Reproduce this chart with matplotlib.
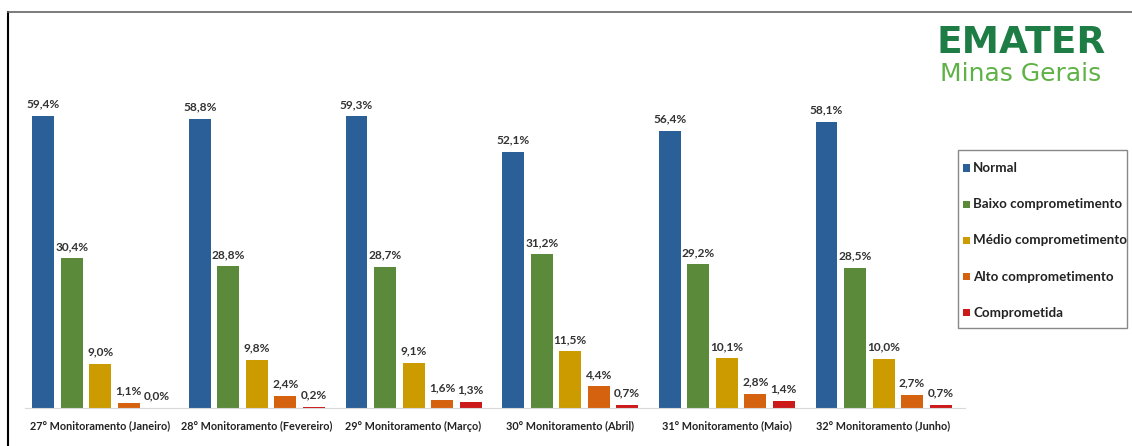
import numpy as np
import matplotlib.pyplot as plt
from matplotlib.lines import Line2D
from matplotlib.patches import Rectangle

plt.rcParams['font.family'] = ['Lato', 'DejaVu Sans']

monitoramentos = ['27° Monitoramento (Janeiro)', '28° Monitoramento (Fevereiro)',
                  '29° Monitoramento (Março)', '30° Monitoramento (Abril)',
                  '31° Monitoramento (Maio)', '32° Monitoramento (Junho)']
categorias = ['Normal', 'Baixo comprometimento', 'Médio comprometimento',
              'Alto comprometimento', 'Comprometida']
normal = [59.4, 58.8, 59.3, 52.1, 56.4, 58.1]
baixo = [30.4, 28.8, 28.7, 31.2, 29.2, 28.5]
medio = [9.0, 9.8, 9.1, 11.5, 10.1, 10.0]
alto = [1.1, 2.4, 1.6, 4.4, 2.8, 2.7]
comprometida = [0.0, 0.2, 1.3, 0.7, 1.4, 0.7]
cores = ['#2b5f97', '#5a8a3a', '#cc9b00', '#d5620f', '#cc1a1a']

series = [normal, baixo, medio, alto, comprometida]

W, H = 1132, 446
fig = plt.figure(figsize=(W / 100, H / 100), dpi=100)
ax = fig.add_axes([25 / W, 1 - 408 / H, 940 / W, 358 / H])

x = np.arange(len(monitoramentos))
w = 0.14
passo = 0.182
for i, (vals, cor) in enumerate(zip(series, cores)):
    pos = x + (i - 2) * passo
    ax.bar(pos, vals, w, color=cor, label=categorias[i])
    for p, v in zip(pos, vals):
        ax.text(p, v + 1.3, f'{v:.1f}%'.replace('.', ','), ha='center', va='bottom',
                fontsize=8.6, fontweight='bold', color='#333333')

ax.set_xlim(-0.48, 5.52)
ax.set_ylim(0, 358 / 4.92)
ax.set_xticks(x)
ax.set_xticklabels(monitoramentos, fontsize=7.8, fontweight='bold', color='#222222')
ax.tick_params(axis='x', length=0, pad=9)
ax.set_yticks([])
for s in ['top', 'right', 'left']:
    ax.spines[s].set_visible(False)
ax.spines['bottom'].set_color('#d9d9d9')

# legenda desenhada a mao
fig.add_artist(Rectangle((958 / W, 1 - 328 / H), 169 / W, 178 / H, transform=fig.transFigure,
                         facecolor='white', edgecolor='#888888', lw=1.0))
for i, (cat, cor) in enumerate(zip(categorias, cores)):
    yc = 168 + i * 36.2
    fig.add_artist(Rectangle((963 / W, 1 - (yc + 3.5) / H), 7 / W, 7 / H,
                             transform=fig.transFigure, facecolor=cor, edgecolor='none'))
    fig.text(973 / W, 1 - yc / H, cat, ha='left', va='center', fontsize=9.6,
             fontweight='bold', color='#222222')

# logo
fig.text(1021 / W, 1 - 43 / H, 'EMATER', ha='center', va='center', fontsize=27,
         fontweight='bold', color='#1e7d45', family='DejaVu Sans')
fig.text(1021 / W, 1 - 74 / H, 'Minas Gerais', ha='center', va='center', fontsize=18,
         color='#5fb246', family='DejaVu Sans')

# moldura
fig.add_artist(Line2D([8 / W, 8 / W], [0, 1 - 12 / H], color='black', lw=1.5))
fig.add_artist(Line2D([8 / W, 1], [1 - 12 / H, 1 - 12 / H], color='#666666', lw=1.2))

fig.savefig('out.png', dpi=100)
